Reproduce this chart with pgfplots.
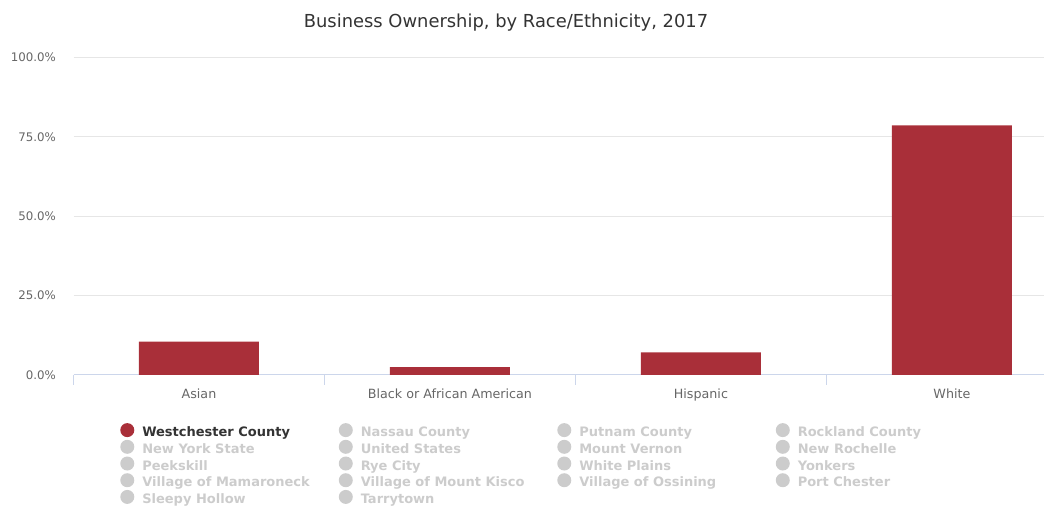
\documentclass[border=0pt]{standalone}
\usepackage{pgfplots}
\pgfplotsset{compat=1.18}
\usepackage{fontspec}
\setmainfont{DejaVu Sans}
\definecolor{barred}{RGB}{169,47,57}
\definecolor{gridc}{RGB}{230,230,230}
\definecolor{axc}{RGB}{204,214,235}
\definecolor{tickc}{RGB}{102,102,102}
\definecolor{titc}{RGB}{51,51,51}
\definecolor{hid}{RGB}{204,204,204}
\newcommand{\LE}[2]{\makebox[195.5pt][l]{\textcolor{#1}{#2}}}
\pgfplotsset{hidimg/.style={legend image code/.code={\fill[hid,draw=none,overlay] (7pt,3pt) circle (7pt);\path[draw=none,fill=none] (0pt,3pt) rectangle (21pt,3pt);}}}
\begin{document}
\begin{tikzpicture}[x=1pt,y=1pt]
\useasboundingbox (0,0) rectangle (1044,508);
\node[anchor=base, text=titc, font=\fontsize{17.9}{21}\selectfont, inner sep=0] at (506,480) {Business Ownership, by Race/Ethnicity, 2017};
\begin{axis}[
  at={(73.5pt,133pt)}, anchor=south west,
  scale only axis, width=970.5pt, height=317.7pt,
  xmin=-0.5, xmax=3.367, ymin=0, ymax=100,
  axis x line*=bottom, axis y line*=left,
  y axis line style={draw=none},
  x axis line style={draw=axc, line width=1pt},
  ymajorgrids, grid style={draw=gridc, line width=1pt},
  ytick={0,25,50,75,100},
  yticklabels={0.0\%,25.0\%,50.0\%,75.0\%,100.0\%},
  ytick style={draw=none},
  yticklabel style={font=\fontsize{11.8}{14}\selectfont, text=tickc, inner sep=0, xshift=-17.5pt},
  xtick={0,1,2,3},
  xticklabels={Asian,Black or African American,Hispanic,White},
  xtick style={draw=none},
  xticklabel style={font=\fontsize{12.7}{15}\selectfont, text=tickc, inner sep=0, yshift=-9pt},
  extra x ticks={-0.5,0.5,1.5,2.5},
  extra x tick labels={},
  extra x tick style={xtick style={draw=axc, line width=1pt}, major tick length=10pt, tick align=outside},
  ybar, bar width=120pt,
  legend columns=4,
  legend style={draw=none, fill=none, inner sep=0pt, at={(axis description cs:0.048,-0.156)}, anchor=north west,
    font=\fontsize{13}{15}\selectfont\bfseries,
    nodes={inner xsep=1pt, inner ysep=0pt, text height=12pt, text depth=4.7pt},
    row sep=0pt, column sep=0pt},
  legend cell align=left,
]
\addplot[draw=none, fill=barred, legend image code/.code={\fill[barred,draw=none,overlay] (7pt,3pt) circle (7pt);\path[draw=none,fill=none] (0pt,3pt) rectangle (21pt,3pt);}] coordinates {(0,10.5) (1,2.5) (2,7.1) (3,78.6)};
\addlegendentry{\LE{titc}{Westchester County}}
\addlegendimage{hidimg}
\addlegendentry{\LE{hid}{Nassau County}}
\addlegendimage{hidimg}
\addlegendentry{\LE{hid}{Putnam County}}
\addlegendimage{hidimg}
\addlegendentry{\LE{hid}{Rockland County}}
\addlegendimage{hidimg}
\addlegendentry{\LE{hid}{New York State}}
\addlegendimage{hidimg}
\addlegendentry{\LE{hid}{United States}}
\addlegendimage{hidimg}
\addlegendentry{\LE{hid}{Mount Vernon}}
\addlegendimage{hidimg}
\addlegendentry{\LE{hid}{New Rochelle}}
\addlegendimage{hidimg}
\addlegendentry{\LE{hid}{Peekskill}}
\addlegendimage{hidimg}
\addlegendentry{\LE{hid}{Rye City}}
\addlegendimage{hidimg}
\addlegendentry{\LE{hid}{White Plains}}
\addlegendimage{hidimg}
\addlegendentry{\LE{hid}{Yonkers}}
\addlegendimage{hidimg}
\addlegendentry{\LE{hid}{Village of Mamaroneck}}
\addlegendimage{hidimg}
\addlegendentry{\LE{hid}{Village of Mount Kisco}}
\addlegendimage{hidimg}
\addlegendentry{\LE{hid}{Village of Ossining}}
\addlegendimage{hidimg}
\addlegendentry{\LE{hid}{Port Chester}}
\addlegendimage{hidimg}
\addlegendentry{\LE{hid}{Sleepy Hollow}}
\addlegendimage{hidimg}
\addlegendentry{\LE{hid}{Tarrytown}}
\end{axis}
\end{tikzpicture}
\end{document}
